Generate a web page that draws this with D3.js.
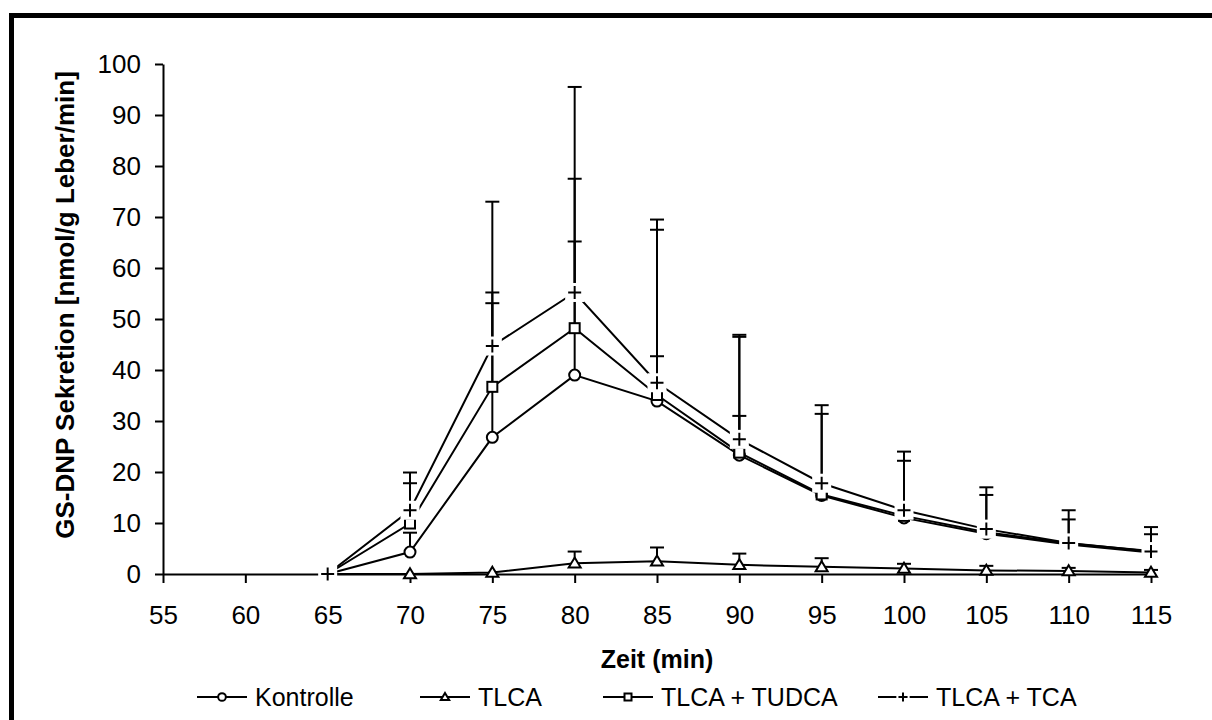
<!DOCTYPE html>
<html>
<head>
<meta charset="utf-8">
<script src="https://cdn.jsdelivr.net/npm/d3@7"></script>
<style>
  body { margin: 0; background: #fff; }
  svg { display: block; font-family: "Liberation Sans", Arial, sans-serif; }
</style>
</head>
<body>
<svg id="chart" width="1212" height="720"></svg>
<script>
// data (GS-DNP secretion, mean + SD upward)
const times = [65, 70, 75, 80, 85, 90, 95, 100, 105, 110, 115];
const kontrolle = [0, 4.3, 26.8, 39.0, 33.9, 23.3, 15.4, 11.0, 7.9, 5.8, 4.2];
const kontrolleSD = [0, 3.8, 26.3, 26.2, 33.6, 23.2, 16.0, 11.2, 7.6, 4.9, 3.6];
const tlca = [0, 0, 0.3, 2.1, 2.5, 1.8, 1.4, 1.1, 0.7, 0.6, 0.3];
const tlcaSD = [0, 0, 0, 2.3, 2.7, 2.2, 1.7, 0.9, 0.9, 0.6, 0.5];
const tudca = [0, 9.9, 36.7, 48.2, 35.1, 23.8, 15.6, 11.4, 8.2, 6.0, 4.5];
const tudcaSD = [0, 7.9, 36.3, 47.3, 34.4, 23.1, 17.5, 12.6, 8.8, 6.5, 4.7];
const tca = [0, 12.5, 44.7, 55.2, 37.5, 26.4, 17.8, 12.5, 8.8, 6.1, 4.4];
const tcaSD = [0, 7.4, 10.5, 22.3, 5.2, 4.6, 0, 0, 0, 0, 0];

const seriesNames = ["Kontrolle", "TLCA", "TLCA + TUDCA", "TLCA + TCA"];
const seriesMarkers = ["circle", "triangle", "square", "plus"];
const xTicks = [55, 60, 65, 70, 75, 80, 85, 90, 95, 100, 105, 110, 115];
const yTicks = [0, 10, 20, 30, 40, 50, 60, 70, 80, 90, 100];

const series = [
  { values: kontrolle, sd: kontrolleSD },
  { values: tlca, sd: tlcaSD },
  { values: tudca, sd: tudcaSD },
  { values: tca, sd: tcaSD },
].map((s, k) => ({
  name: seriesNames[k],
  marker: seriesMarkers[k],
  points: times.map((t, i) => ({ t, v: s.values[i], sd: s.sd[i] })),
}));

const svg = d3.select("#chart");
const x = d3.scaleLinear().domain([55, 115]).range([163, 1151]);
const y = d3.scaleLinear().domain([0, 100]).range([574, 64]);

// outer frame (only top and left edges fall inside the picture)
svg.append("rect")
  .attr("x", 11.5).attr("y", 15.5)
  .attr("width", 1400).attr("height", 900)
  .attr("fill", "none").attr("stroke", "#000").attr("stroke-width", 5);

// axes
const yAxis = svg.append("g")
  .attr("transform", `translate(${x(55)},0)`)
  .call(d3.axisLeft(y).tickValues(yTicks).tickSize(8).tickPadding(14).tickSizeOuter(0));
const xAxis = svg.append("g")
  .attr("transform", `translate(0,${y(0)})`)
  .call(d3.axisBottom(x).tickValues(xTicks).tickSize(9).tickPadding(22).tickSizeOuter(0));

[xAxis, yAxis].forEach((a) => {
  a.select(".domain").attr("stroke", "#000").attr("stroke-width", 2);
  a.selectAll(".tick line").attr("stroke", "#000").attr("stroke-width", 2);
  a.selectAll(".tick text")
    .attr("fill", "#000")
    .attr("font-size", 26)
    .attr("font-family", "Liberation Sans, Arial, sans-serif");
});
xAxis.selectAll(".tick text").attr("dy", "0.35em").attr("y", 41);

// axis titles
svg.append("text")
  .attr("transform", `translate(74,305) rotate(-90)`)
  .attr("text-anchor", "middle")
  .attr("font-size", 26).attr("font-weight", "bold")
  .text("GS-DNP Sekretion [nmol/g Leber/min]");

svg.append("text")
  .attr("x", (x(55) + x(115)) / 2).attr("y", 668)
  .attr("text-anchor", "middle")
  .attr("font-size", 25).attr("font-weight", "bold")
  .text("Zeit (min)");

// lines
const line = d3.line().x((d) => x(d.t)).y((d) => y(d.v));
const plot = svg.append("g");

plot.selectAll(".series-line")
  .data(series)
  .join("path")
  .attr("class", "series-line")
  .attr("d", (s) => line(s.points))
  .attr("fill", "none")
  .attr("stroke", "#000")
  .attr("stroke-width", 2);

// error bars, upward only
const capHalf = 7;
const bars = series.flatMap((s) => s.points.filter((p) => p.sd > 0));
const eb = plot.append("g").attr("stroke", "#000").attr("stroke-width", 2);
eb.selectAll(".stem").data(bars).join("line")
  .attr("x1", (d) => x(d.t)).attr("x2", (d) => x(d.t))
  .attr("y1", (d) => y(d.v)).attr("y2", (d) => y(d.v + d.sd));
eb.selectAll(".cap").data(bars).join("line")
  .attr("x1", (d) => x(d.t) - capHalf).attr("x2", (d) => x(d.t) + capHalf)
  .attr("y1", (d) => y(d.v + d.sd)).attr("y2", (d) => y(d.v + d.sd));

// markers
function drawMarker(g, type, size) {
  const s = size;
  g.attr("stroke", "#000").attr("stroke-width", 2);
  if (type === "circle") {
    g.append("circle").attr("r", s * 0.55).attr("fill", "#fff");
  } else if (type === "square") {
    g.append("rect").attr("x", -s / 2).attr("y", -s / 2)
      .attr("width", s).attr("height", s).attr("fill", "#fff");
  } else if (type === "triangle") {
    const h = s * 0.95;
    g.append("path")
      .attr("d", `M0,${-h * 0.6} L${s * 0.6},${h * 0.45} L${-s * 0.6},${h * 0.45} Z`)
      .attr("fill", "#fff").attr("stroke-linejoin", "miter");
  } else if (type === "plus") {
    const box = s * 0.95;
    g.append("rect").attr("x", -box).attr("y", -box)
      .attr("width", box * 2).attr("height", box * 2)
      .attr("fill", "#fff").attr("stroke", "none");
    g.append("path")
      .attr("d", `M${-s * 0.65},0 H${s * 0.65} M0,${-s * 0.65} V${s * 0.65}`)
      .attr("fill", "none");
  }
}

series.forEach((s) => {
  plot.append("g")
    .selectAll("g")
    .data(s.points)
    .join("g")
    .attr("transform", (d) => `translate(${x(d.t)},${y(d.v)})`)
    .each(function () { drawMarker(d3.select(this), s.marker, 10); });
});

// legend
const legendX = [197, 420, 603, 878];
const legend = svg.append("g").attr("transform", "translate(0,697)");
const items = legend.selectAll("g").data(series).join("g")
  .attr("transform", (d, i) => `translate(${legendX[i]},0)`);
items.append("line")
  .attr("x1", 0).attr("x2", 50).attr("y1", 0).attr("y2", 0)
  .attr("stroke", "#000").attr("stroke-width", 2);
items.append("g").attr("transform", "translate(25,0)")
  .each(function (d) { drawMarker(d3.select(this), d.marker, 7); });
items.append("text")
  .attr("x", 58).attr("dy", "0.35em")
  .attr("font-size", 25)
  .text((d) => d.name);
</script>
</body>
</html>
